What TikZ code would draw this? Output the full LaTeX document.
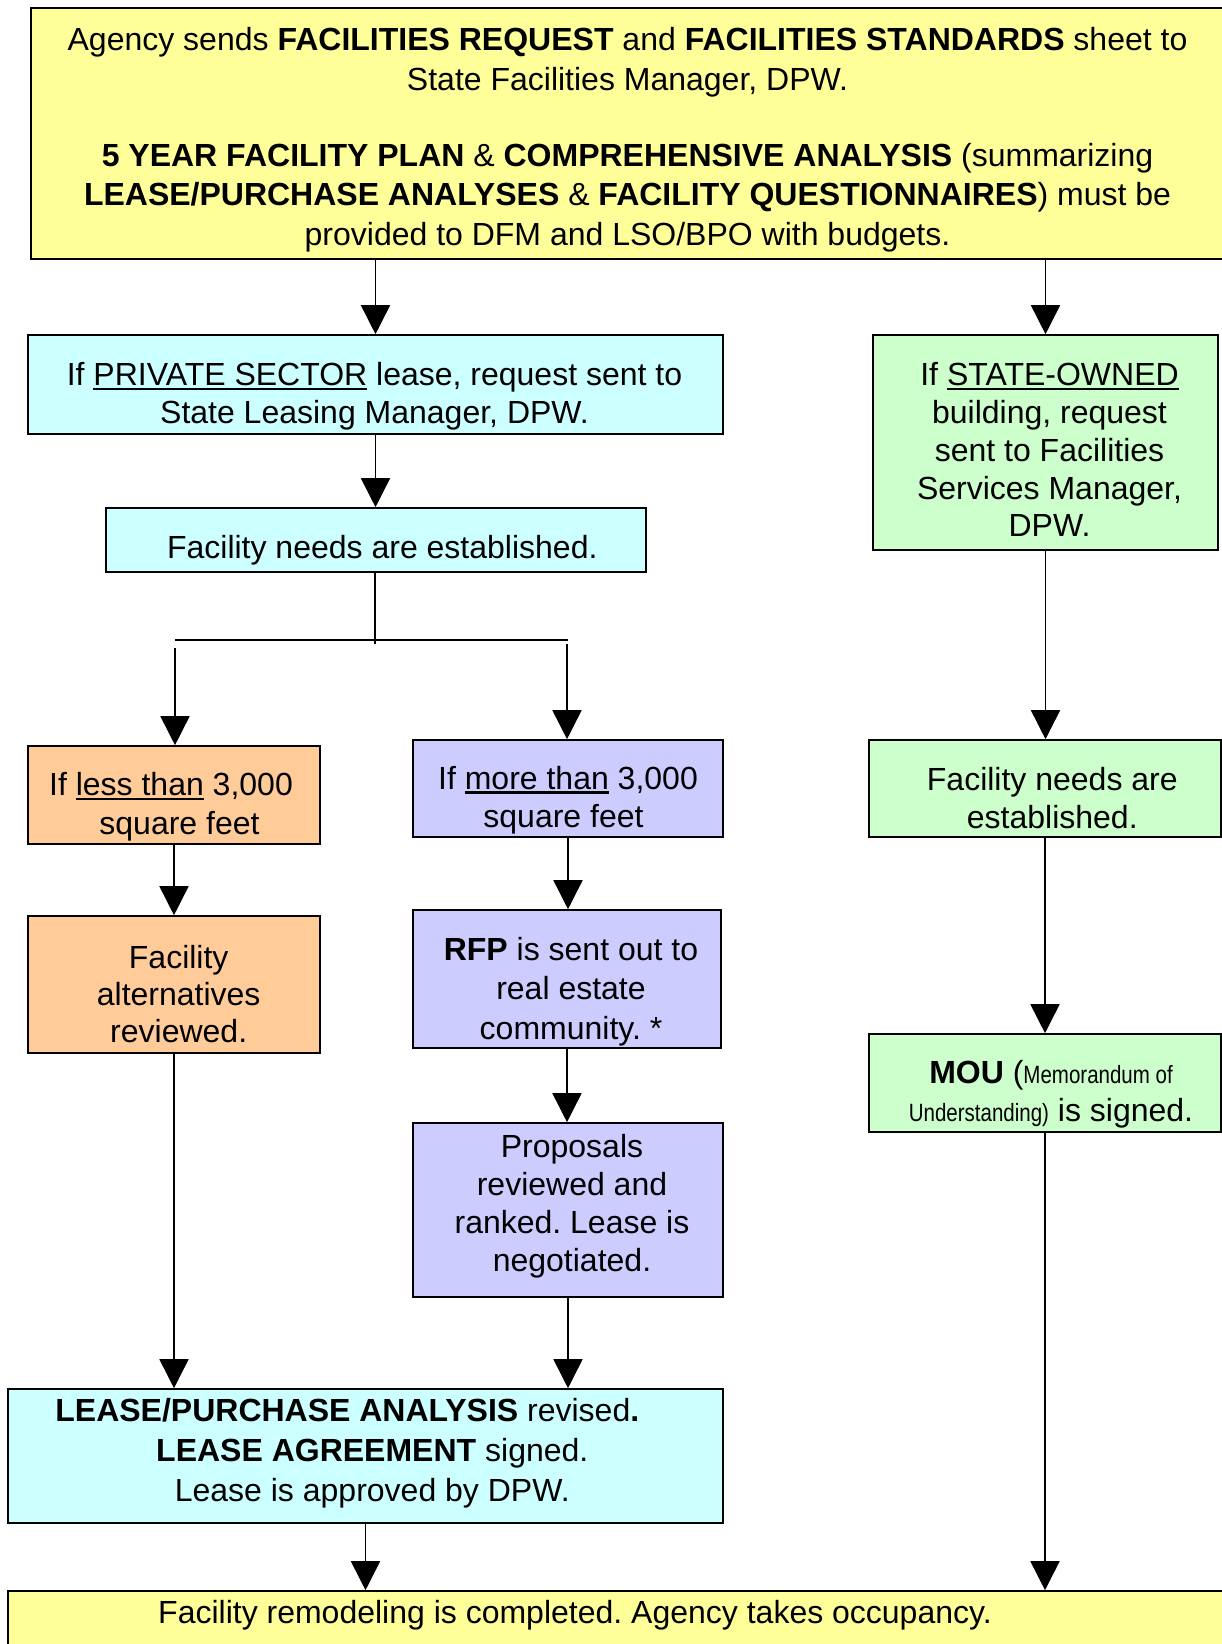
\documentclass[tikz,border=0pt]{standalone}
\usepackage{fontspec}
\usepackage{graphicx}
\setmainfont{Liberation Sans}
\usetikzlibrary{arrows.meta}
\definecolor{cyellow}{HTML}{FFFF99}
\definecolor{ccyan}{HTML}{CCFFFF}
\definecolor{cgreen}{HTML}{CCFFCC}
\definecolor{corange}{HTML}{FFCC99}
\definecolor{clav}{HTML}{CCCCFF}
\newcommand{\myul}[1]{\setbox0\hbox{#1}\rlap{\rule[-4.5pt]{\wd0}{2.2pt}}\box0\relax}
\newcommand{\narr}[1]{\scalebox{0.82}[1]{\fontsize{25}{30}\selectfont #1}}
\tikzset{
  box/.style={draw=black, line width=1.6pt, inner sep=0pt},
  txt/.style={inner sep=0pt, align=center, font=\fontsize{32}{38.5}\selectfont},
  arr/.style={line width=1.6pt, -{Triangle[width=29pt,length=29pt]}},
  ln/.style={line width=1.6pt}
}
\begin{document}
\frenchspacing
\begin{tikzpicture}[x=1pt,y=-1pt]
\clip (0,0) rectangle (1222,1644);
\fill[white] (0,0) rectangle (1222,1644);
% boxes
\node[box, fill=cyellow, minimum width=1193pt, minimum height=251pt] (top) at (627.5,133.5) {};
\node[box, fill=ccyan, minimum width=695pt, minimum height=99pt] (priv) at (375.5,384.5) {};
\node[box, fill=ccyan, minimum width=540pt, minimum height=64pt] (fneedsL) at (376,540) {};
\node[box, fill=cgreen, minimum width=345pt, minimum height=215pt] (state) at (1045.5,442.5) {};
\node[box, fill=corange, minimum width=292pt, minimum height=98pt] (less) at (174,795) {};
\node[box, fill=clav, minimum width=310pt, minimum height=97pt] (more) at (568,788.5) {};
\node[box, fill=cgreen, minimum width=352pt, minimum height=97pt] (fneedsR) at (1045,788.5) {};
\node[box, fill=corange, minimum width=292pt, minimum height=137pt] (alt) at (174,984.5) {};
\node[box, fill=clav, minimum width=308pt, minimum height=138pt] (rfp) at (567,979) {};
\node[box, fill=cgreen, minimum width=352pt, minimum height=98pt] (mou) at (1045,1083) {};
\node[box, fill=clav, minimum width=310pt, minimum height=174pt] (prop) at (568,1210) {};
\node[box, fill=ccyan, minimum width=715pt, minimum height=134pt] (lease) at (365.5,1456) {};
\node[box, fill=cyellow, minimum width=1222pt, minimum height=69pt] (bottom) at (619,1625.5) {};
% texts
\node[txt, font=\fontsize{32}{39.5}\selectfont] (topT) at ([yshift=-6.3pt]top.center)
 {Agency sends \textbf{FACILITIES REQUEST} and \textbf{FACILITIES STANDARDS} sheet to\\State Facilities Manager, DPW.\\[36.5pt]\textbf{5 YEAR FACILITY PLAN} \& \textbf{COMPREHENSIVE ANALYSIS} (summarizing\\\textbf{LEASE/PURCHASE ANALYSES} \& \textbf{FACILITY QUESTIONNAIRES}) must be\\provided to DFM and LSO/BPO with budgets.};
\node[txt, font=\fontsize{32}{37.7}\selectfont] (privT) at ([xshift=-1pt,yshift=-11.5pt]priv.center)
 {If \myul{PRIVATE SECTOR} lease, request sent to\\State Leasing Manager, DPW.};
\node[txt] (fneedsLT) at ([xshift=6.3pt,yshift=-10.5pt]fneedsL.center)
 {Facility needs are established.};
\node[txt, font=\fontsize{32}{37.75}\selectfont] (stateT) at ([xshift=4pt,yshift=-7.3pt]state.center)
 {If \myul{STATE-OWNED}\\building, request\\sent to Facilities\\Services Manager,\\DPW.};
\node[txt] (lessT) at ([xshift=-3pt,yshift=-11.5pt]less.center)
 {If \myul{less than} 3,000\\\hspace*{17pt}square feet};
\node[txt] (moreT) at ([yshift=-11.5pt]more.center)
 {If \myul{more than} 3,000\\square feet\rule{9pt}{0pt}};
\node[txt] (fneedsRT) at ([xshift=7.3pt,yshift=-9.4pt]fneedsR.center)
 {Facility needs are\\established.};
\node[txt, font=\fontsize{32}{37}\selectfont] (altT) at ([xshift=4.7pt,yshift=-10pt]alt.center)
 {Facility\\alternatives\\reviewed.};
\node[txt, font=\fontsize{32}{39.5}\selectfont] (rfpT) at ([xshift=4pt,yshift=-12.5pt]rfp.center)
 {\textbf{RFP} is sent out to\\real estate\\community. *};
\node[txt, font=\fontsize{32}{38.5}\selectfont] (mouT) at ([xshift=6pt,yshift=-11pt]mou.center)
 {\textbf{MOU} (\narr{Memorandum of}\\\narr{Understanding)} is signed.};
\node[txt, font=\fontsize{32}{38}\selectfont] (propT) at ([xshift=4pt,yshift=4.2pt]prop.center)
 {Proposals\\reviewed and\\ranked. Lease is\\negotiated.};
\node[txt, font=\fontsize{32}{40}\selectfont] (leaseT) at ([xshift=6.8pt,yshift=3pt]lease.center)
 {\textbf{LEASE/PURCHASE ANALYSIS} revised\textbf{.}\rule{50pt}{0pt}\\\textbf{LEASE AGREEMENT} signed.\\Lease is approved by DPW.};
\node[txt, anchor=base] (bottomT) at (575,1623)
 {Facility remodeling is completed. Agency takes occupancy.};
% connectors
\draw[arr] (top.south -| priv.north) -- (priv.north);
\draw[arr] (top.south -| state.north) -- (state.north);
\draw[arr] (priv.south) -- (priv.south |- fneedsL.north);
\coordinate (hubC) at (375,644);
\coordinate (hubL) at (175,640);
\coordinate (hubR) at (568,640);
\coordinate (dropL) at (175,648);
\coordinate (dropR) at (567,644);
\draw[ln] (fneedsL.south -| hubC) -- (hubC);
\draw[ln] (hubL) -- (hubR);
\draw[arr] (dropL) -- (dropL |- less.north);
\draw[arr] (dropR) -- (dropR |- more.north);
\draw[arr] (less.south) -- (alt.north);
\draw[arr] (alt.south) -- (alt.south |- lease.north);
\draw[arr] (more.south) -- (more.south |- rfp.north);
\draw[arr] (rfp.south) -- (rfp.south |- prop.north);
\draw[arr] (prop.south) -- (prop.south |- lease.north);
\draw[arr] (lease.south) -- (lease.south |- bottom.north);
\draw[arr] (state.south) -- (state.south |- fneedsR.north);
\draw[arr] (fneedsR.south) -- (mou.north);
\draw[arr] (mou.south) -- (mou.south |- bottom.north);
\end{tikzpicture}
\end{document}
